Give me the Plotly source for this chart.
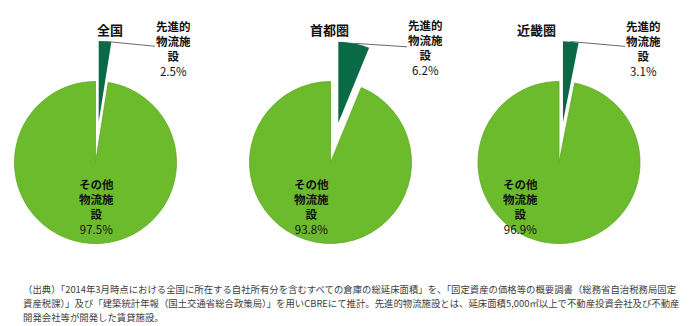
import math
import plotly.graph_objects as go

# Share of total warehouse floor area (%), by region
regions = ["全国", "首都圏", "近畿圏"]
advanced_share = [2.5, 6.2, 3.1]     # 先進的物流施設
other_share = [97.5, 93.8, 96.9]     # その他物流施設
slice_labels = ["先進的<br>物流施<br>設", "その他<br>物流施<br>設"]

footnote_lines = [
    "（出典）「2014年3月時点における全国に所在する自社所有分を含むすべての倉庫の総延床面積」を、「固定資産の価格等の概要調書（総務省自治税務局固定",
    "資産税課）」及び「建築統計年報（国土交通省総合政策局）」を用いCBREにて推計。先進的物流施設とは、延床面積5,000㎡以上で不動産投資会社及び不動産",
    "開発会社等が開発した賃貸施設。",
]

# Page geometry (pixels)
W, H = 700, 326
centers_x = [95.5, 330.5, 559.0]
center_y = 162.5
radius = 81.0
pull_px = 40.5
outside_label_x = [173, 425, 643]
outside_label_y = 48
inside_label_dx, inside_label_dy = -19, 44
title_y = 18
note_y, note_step = 303.0, 13.8

LIGHT = "#6bbb2c"
DARK = "#0a6a48"
CLEAR = "rgba(0,0,0,0)"
FONT = "Noto Sans CJK JP"


def px_domain(cx, cy, r):
    return dict(x=[(cx - r) / W, (cx + r) / W],
                y=[1 - (cy + r) / H, 1 - (cy - r) / H])


fig = go.Figure()
annotations = []

for i, region in enumerate(regions):
    vals = [advanced_share[i], other_share[i]]
    cx = centers_x[i]

    # main body: the large slice, with the exploded one left empty
    fig.add_trace(go.Pie(
        values=vals, labels=["先進的物流施設", "その他物流施設"],
        sort=False, direction="clockwise", rotation=0,
        marker=dict(colors=[CLEAR, LIGHT],
                    line=dict(color=[CLEAR, "#5fa827"], width=0.8)),
        textinfo="none", hoverinfo="skip", showlegend=False,
        domain=px_domain(cx, center_y, radius),
    ))

    # exploded slice, shifted outward along its mid-angle
    mid = math.pi * advanced_share[i] / sum(vals)
    pcx = cx + pull_px * math.sin(mid)
    pcy = center_y - pull_px * math.cos(mid)
    fig.add_trace(go.Pie(
        values=vals, labels=["先進的物流施設", "その他物流施設"],
        sort=False, direction="clockwise", rotation=0,
        marker=dict(colors=[DARK, CLEAR], line=dict(width=0)),
        textinfo="none", hoverinfo="skip", showlegend=False,
        domain=px_domain(pcx, pcy, radius),
    ))

    # region title
    annotations.append(dict(
        text=f"<b>{region}</b>", x=(cx - 1) / W, y=1 - title_y / H,
        xref="paper", yref="paper", showarrow=False,
        font=dict(family=FONT, size=13, color="#111111"),
    ))

    # outside label with leader line to the exploded slice
    arc_x = pcx + radius * math.sin(mid)
    arc_y = pcy - radius * math.cos(mid)
    parts = slice_labels[0].split("<br>")
    txt = "<br>".join(f"<b>{p}</b>" for p in parts) + f"<br>{advanced_share[i]:.1f}%"
    annotations.append(dict(
        text=txt, x=arc_x / W, y=1 - arc_y / H, xref="paper", yref="paper",
        showarrow=True, arrowhead=0, arrowwidth=1, arrowcolor="#6a6a6a",
        standoff=0, ax=outside_label_x[i] - arc_x, ay=outside_label_y - arc_y,
        font=dict(family=FONT, size=11.5, color="#111111"), align="center",
        borderpad=0,
    ))

    # inside label for the large slice
    parts = slice_labels[1].split("<br>")
    txt = "<br>".join(f"<b>{p}</b>" for p in parts) + f"<br>{other_share[i]:.1f}%"
    annotations.append(dict(
        text=txt, x=(cx + inside_label_dx) / W,
        y=1 - (center_y + inside_label_dy) / H,
        xref="paper", yref="paper", showarrow=False,
        font=dict(family=FONT, size=11.5, color="#111111"), align="center",
    ))

# source note, one annotation per line
for k, line in enumerate(footnote_lines):
    annotations.append(dict(
        text=line, x=21 / W, y=1 - (note_y + note_step * (k - 1)) / H,
        xref="paper", yref="paper", xanchor="left", yanchor="middle",
        align="left", showarrow=False,
        font=dict(family=FONT, size=9.4, color="#404040"),
    ))

fig.update_layout(
    width=W, height=H, margin=dict(l=0, r=0, t=0, b=0),
    paper_bgcolor="white", plot_bgcolor="white",
    annotations=annotations,
)

fig.write_html("out.html")
